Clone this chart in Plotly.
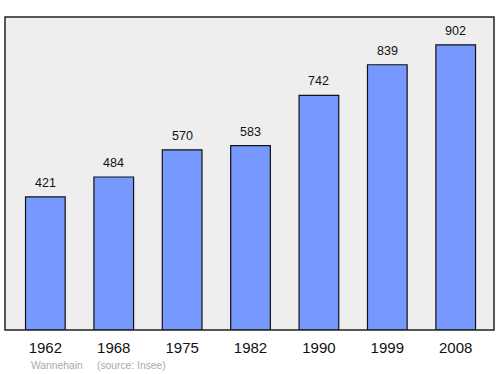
import plotly.graph_objects as go

years = ["1962", "1968", "1975", "1982", "1990", "1999", "2008"]
population = [421, 484, 570, 583, 742, 839, 902]
commune = "Wannehain"
source = "(source: Insee)"

fig = go.Figure()
fig.add_trace(go.Bar(
    x=list(range(len(years))), y=population,
    marker=dict(color="#7799ff", line=dict(color="#111111", width=1.2)),
    width=0.58, hoverinfo="skip",
))
for i, v in enumerate(population):
    fig.add_annotation(x=i, y=v, text=str(v), showarrow=False, yanchor="bottom",
                       yshift=5, font=dict(family="Liberation Sans, Arial", size=12.5, color="#111111"))

fig.add_shape(type="rect", xref="paper", yref="paper", x0=0, y0=0, x1=1, y1=1,
              line=dict(color="#222222", width=1.5))
fig.add_annotation(xref="paper", yref="paper", x=0.05, y=-0.115, xanchor="left", yanchor="middle",
                   text=commune + "&nbsp;&nbsp;&nbsp;&nbsp;&nbsp;" + source, showarrow=False,
                   font=dict(family="Liberation Sans, Arial", size=10.3, color="#aaaaaa"))

fig.update_layout(
    width=500, height=374,
    margin=dict(l=5, r=6, t=17, b=44),
    paper_bgcolor="white", plot_bgcolor="#eeeeee",
    showlegend=False,
    xaxis=dict(tickmode="array", tickvals=list(range(len(years))), ticktext=years,
               range=[-0.59, 6.56], showgrid=False, zeroline=False,
               ticks="outside", ticklen=4, tickcolor="rgba(0,0,0,0)",
               tickfont=dict(family="Liberation Sans, Arial", size=15, color="#111111")),
    yaxis=dict(range=[0, 990], showgrid=False, zeroline=False, showticklabels=False),
)
fig.write_html("out.html")
